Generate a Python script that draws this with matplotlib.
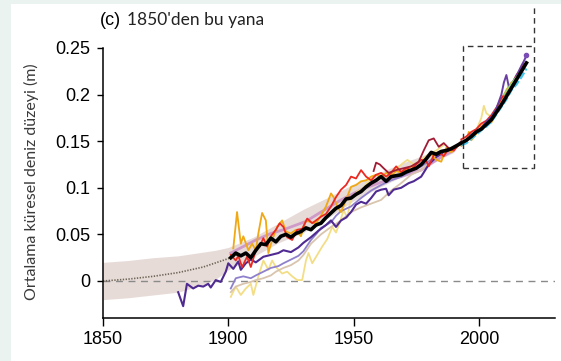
import numpy as np
import matplotlib
matplotlib.use("Agg")
import matplotlib.pyplot as plt
from matplotlib.patches import Rectangle

# --- veriler -------------------------------------------------------------
# ana tahmin (siyah)
yil_siyah = [1901, 1903, 1905, 1907, 1909, 1911, 1913, 1915, 1917, 1919,
             1921, 1923, 1925, 1927, 1929, 1931, 1933, 1935, 1937, 1939,
             1941, 1943, 1945, 1947, 1949, 1951, 1953, 1955, 1957, 1959,
             1961, 1963, 1965, 1967, 1969, 1971, 1973, 1975, 1977, 1979,
             1981, 1983, 1985, 1987, 1989, 1991, 1993, 1995, 1997, 1999,
             2001, 2003, 2005, 2007, 2009, 2011, 2013, 2015, 2017, 2019]
siyah = [0.025, 0.030, 0.027, 0.030, 0.025, 0.033, 0.040, 0.039, 0.046, 0.042,
         0.048, 0.050, 0.047, 0.051, 0.053, 0.057, 0.055, 0.060, 0.062, 0.068,
         0.073, 0.078, 0.081, 0.088, 0.089, 0.093, 0.096, 0.101, 0.105, 0.108,
         0.112, 0.107, 0.112, 0.113, 0.114, 0.117, 0.119, 0.121, 0.125, 0.131,
         0.138, 0.136, 0.139, 0.140, 0.142, 0.145, 0.148, 0.151, 0.155, 0.160,
         0.163, 0.168, 0.173, 0.181, 0.189, 0.198, 0.207, 0.216, 0.225, 0.234]

# 1850 sonrasi tahmin ve belirsizlik bandi
yil_bant = [1850, 1860, 1870, 1880, 1890, 1895, 1900, 1910, 1920, 1930,
            1940, 1950, 1960, 1970, 1980, 1990]
bant_ust = [0.020, 0.022, 0.025, 0.027, 0.031, 0.033, 0.036, 0.047, 0.062, 0.077,
            0.090, 0.104, 0.116, 0.127, 0.137, 0.146]
bant_alt = [-0.020, -0.018, -0.015, -0.012, -0.004, 0.002, 0.012, 0.026, 0.041, 0.052,
            0.068, 0.086, 0.100, 0.113, 0.125, 0.138]
yil_nokta = [1850, 1860, 1870, 1880, 1890, 1900, 1905]
nokta = [0.0, 0.002, 0.005, 0.009, 0.015, 0.024, 0.030]

# diger yeniden yapilandirmalar
yil_mor = [1880, 1882, 1883.5, 1886, 1888, 1890, 1892, 1893, 1895, 1897,
           1899, 1900, 1902, 1904, 1905, 1907, 1909, 1911, 1914, 1917,
           1920, 1922, 1925, 1928, 1930, 1933, 1936, 1939, 1941, 1943,
           1945, 1947, 1949, 1951, 1953, 1955, 1957, 1959, 1961, 1963,
           1964, 1966, 1969, 1972, 1974, 1977, 1980, 1983, 1986, 1990]
mor = [-0.012, -0.027, -0.003, -0.008, -0.005, -0.006, -0.003, -0.007, 0.001, -0.001,
       0.010, 0.019, 0.013, 0.021, 0.012, 0.019, 0.023, 0.020, 0.026, 0.028,
       0.030, 0.033, 0.031, 0.036, 0.041, 0.047, 0.054, 0.060, 0.065, 0.058,
       0.065, 0.068, 0.074, 0.082, 0.085, 0.083, 0.089, 0.096, 0.098, 0.099,
       0.092, 0.098, 0.100, 0.105, 0.107, 0.112, 0.125, 0.133, 0.138, 0.142]

yil_lila = [1901, 1903, 1906, 1909, 1911, 1914, 1917, 1920, 1922, 1925,
            1928, 1930, 1933, 1935, 1937, 1941, 1943, 1945, 1949, 1953,
            1957, 1961, 1965, 1969, 1973, 1977, 1981]
lila = [-0.008, 0.003, 0.005, 0.003, 0.006, 0.010, 0.014, 0.016, 0.019, 0.023,
        0.027, 0.032, 0.044, 0.050, 0.057, 0.063, 0.070, 0.075, 0.080, 0.089,
        0.097, 0.103, 0.108, 0.112, 0.118, 0.123, 0.130]

yil_bej = [1901, 1903, 1906, 1909, 1911, 1914, 1917, 1919, 1922, 1925,
           1928, 1930, 1933, 1937, 1941, 1945, 1949, 1953, 1957, 1961,
           1965, 1969, 1973, 1977, 1980]
bej = [-0.012, -0.006, -0.003, -0.001, 0.001, 0.003, 0.006, 0.010, 0.014, 0.017,
       0.022, 0.028, 0.040, 0.050, 0.058, 0.065, 0.074, 0.079, 0.083, 0.087,
       0.097, 0.105, 0.114, 0.119, 0.126]

yil_sari = [1901, 1903, 1905, 1907, 1909, 1910, 1912, 1914, 1916, 1917.5,
            1919, 1921.5, 1923.5, 1925.5, 1927.5, 1929.5, 1931, 1932, 1933.5, 1935.5,
            1937.5, 1939.5, 1941.5, 1943, 1944.8, 1946, 1947.5, 1948.8, 1951.5, 1954,
            1956.8, 1959, 1961, 1963, 1965, 1967, 1969.5, 1971.5, 1974, 1977,
            1980, 1983, 1986]
sari = [-0.017, -0.006, -0.015, -0.008, -0.003, -0.015, 0.005, 0.022, 0.012, 0.022,
        0.015, 0.008, 0.010, 0.005, 0.001, 0.001, 0.022, 0.030, 0.019, 0.028,
        0.037, 0.045, 0.058, 0.052, 0.065, 0.076, 0.068, 0.087, 0.096, 0.100,
        0.110, 0.108, 0.114, 0.112, 0.116, 0.120, 0.126, 0.130, 0.125, 0.130,
        0.136, 0.140, 0.146]

yil_turuncu = [1902, 1903.5, 1905, 1906, 1908, 1909.5, 1911, 1912, 1913.5, 1915,
               1916, 1917.5, 1919.5, 1921.5, 1923, 1925, 1927, 1929, 1931, 1933,
               1935, 1937, 1939, 1941, 1942, 1943.5, 1945, 1947, 1949, 1951,
               1953, 1955, 1957, 1959, 1961, 1963, 1965, 1967, 1969, 1971,
               1973, 1975, 1977, 1979, 1981, 1983, 1985, 1987, 1989, 1991]
turuncu = [0.035, 0.074, 0.040, 0.048, 0.033, 0.040, 0.033, 0.051, 0.073, 0.065,
           0.030, 0.044, 0.058, 0.065, 0.053, 0.051, 0.055, 0.048, 0.065, 0.063,
           0.062, 0.070, 0.080, 0.094, 0.090, 0.080, 0.074, 0.087, 0.101, 0.103,
           0.107, 0.108, 0.112, 0.114, 0.111, 0.116, 0.113, 0.118, 0.116, 0.120,
           0.123, 0.121, 0.126, 0.132, 0.136, 0.130, 0.128, 0.143, 0.138, 0.144]

yil_kirmizi = [1901, 1903, 1904, 1905.5, 1907.5, 1909, 1911, 1912.5, 1914, 1915.5,
               1917, 1919, 1920.5, 1922, 1923.5, 1925.5, 1927.5, 1929.5, 1931.5, 1933.5,
               1937, 1939, 1941, 1943, 1945, 1947, 1949, 1951, 1953, 1955,
               1957, 1959, 1961, 1963, 1965, 1967, 1969, 1971, 1973, 1975,
               1977, 1979, 1980, 1982, 1984, 1986, 1988, 1990, 1992]
kirmizi = [0.028, 0.022, 0.027, 0.015, 0.026, 0.015, 0.033, 0.037, 0.046, 0.037,
           0.048, 0.055, 0.062, 0.058, 0.047, 0.044, 0.055, 0.056, 0.067, 0.062,
           0.069, 0.072, 0.080, 0.090, 0.098, 0.103, 0.112, 0.110, 0.119, 0.112,
           0.108, 0.114, 0.116, 0.112, 0.116, 0.123, 0.117, 0.121, 0.119, 0.125,
           0.130, 0.129, 0.123, 0.135, 0.138, 0.134, 0.142, 0.140, 0.146]

yil_bordo = [1958, 1959, 1960.5, 1962, 1964, 1967, 1970, 1973, 1976, 1978,
             1980, 1982, 1984, 1986, 1988.5, 1990.5, 1993]
bordo = [0.118, 0.127, 0.125, 0.121, 0.116, 0.119, 0.121, 0.123, 0.128, 0.140,
         0.151, 0.153, 0.144, 0.148, 0.141, 0.143, 0.150]

yil_pembe = [1901, 1906, 1911, 1917, 1922, 1927, 1931, 1937, 1945, 1953,
             1961, 1969, 1977, 1985, 1990]
pembe = [0.030, 0.037, 0.044, 0.051, 0.055, 0.060, 0.064, 0.074, 0.087, 0.098,
         0.106, 0.112, 0.119, 0.133, 0.140]

# uydu donemi (1993 sonrasi)
yil_uydu_mor = [1993, 1995, 1997, 1999, 2001, 2003, 2005, 2007, 2009, 2010,
                2011, 2012, 2013, 2015, 2017, 2018, 2019]
uydu_mor = [0.147, 0.150, 0.157, 0.161, 0.164, 0.171, 0.176, 0.185, 0.200, 0.213,
            0.221, 0.208, 0.211, 0.220, 0.231, 0.236, 0.242]
yil_camgobegi = [1993, 1995, 1997, 1999, 2001, 2003, 2005, 2007, 2009, 2011,
                 2013, 2015, 2017, 2019]
camgobegi = [0.146, 0.148, 0.153, 0.157, 0.162, 0.166, 0.171, 0.179, 0.187, 0.195,
             0.205, 0.211, 0.219, 0.228]
yil_uydu_kirmizi = [1993, 1995, 1997, 1999, 2001, 2003, 2005, 2007, 2009, 2011,
                    2013, 2015, 2017, 2018]
uydu_kirmizi = [0.152, 0.155, 0.160, 0.163, 0.169, 0.172, 0.178, 0.186, 0.196, 0.203,
                0.210, 0.221, 0.228, 0.233]
yil_uydu_turuncu = [1993, 1995, 1996, 1997, 1999, 2001, 2003, 2005, 2007, 2009,
                    2011, 2013]
uydu_turuncu = [0.145, 0.150, 0.160, 0.151, 0.158, 0.166, 0.171, 0.170, 0.183, 0.193,
                0.205, 0.213]
yil_uydu_sari = [1997, 1999, 2001, 2002, 2003, 2005, 2007]
uydu_sari = [0.158, 0.162, 0.175, 0.188, 0.180, 0.176, 0.184]
yil_yesil = [2010, 2013, 2016, 2018]
yesil = [0.200, 0.212, 0.222, 0.228]

x_ticks = [1850, 1900, 1950, 2000]
y_ticks = [0, 0.05, 0.1, 0.15, 0.2, 0.25]
y_tick_labels = ['0', '0.05', '0.1', '0.15', '0.2', '0.25']

# --- cizim ---------------------------------------------------------------
plt.rcParams['font.family'] = ['Liberation Sans', 'DejaVu Sans']

fig = plt.figure(figsize=(5.61, 3.61), dpi=100)
fig.patch.set_facecolor('white')
# sol ve ust kenardaki acik yesil serit
fig.patches.append(Rectangle((0, 0), 11 / 561, 1, transform=fig.transFigure,
                             facecolor='#eaf3f0', edgecolor='none', zorder=0))
fig.patches.append(Rectangle((0, 1 - 4 / 361), 1, 4 / 361, transform=fig.transFigure,
                             facecolor='#eaf3f0', edgecolor='none', zorder=0))

ax = fig.add_axes([103 / 561, 1 - 318 / 361, (555 - 103) / 561, (318 - 48) / 361])
ax.set_xlim(1850, 2030.4)
ax.set_ylim(-0.0397, 0.25)

ax.fill_between(yil_bant, bant_alt, bant_ust, color='#e7dbd8', lw=0, zorder=1)
ax.plot(yil_nokta, nokta, color='#6e6455', lw=1.2, ls=(0, (0.8, 0.9)), zorder=2)
ax.axhline(0, color='#8a8a8a', lw=1.0, ls=(0, (5, 4)), zorder=1)

ince = 1.3
ax.plot(yil_pembe, pembe, color='#c98ac4', lw=2.0, alpha=0.8, zorder=3)
ax.plot(yil_sari, sari, color='#f3de86', lw=ince, zorder=3)
ax.plot(yil_bej, bej, color='#d9c4ae', lw=ince, zorder=3)
ax.plot(yil_lila, lila, color='#8f80cc', lw=ince, zorder=3)
ax.plot(yil_mor, mor, color='#4f2a91', lw=1.5, zorder=4)
ax.plot(yil_turuncu, turuncu, color='#f0a814', lw=ince, zorder=4)
ax.plot(yil_kirmizi, kirmizi, color='#ea2a22', lw=ince, zorder=4)
ax.plot(yil_bordo, bordo, color='#a01c34', lw=ince, zorder=4)

ax.plot(yil_uydu_sari, uydu_sari, color='#f3de86', lw=ince, zorder=4)
ax.plot(yil_uydu_turuncu, uydu_turuncu, color='#f0a814', lw=ince, zorder=4)
ax.plot(yil_uydu_kirmizi, uydu_kirmizi, color='#ea2a22', lw=ince, zorder=4)
ax.plot(yil_uydu_mor, uydu_mor, color='#6a3ea3', lw=1.4, zorder=4)
ax.plot(yil_uydu_mor[-1:], uydu_mor[-1:], 'o', color='#7a4cb5', ms=3, zorder=4)
ax.plot(yil_yesil, yesil, color='#9fd36b', lw=ince, zorder=4)
ax.plot(yil_camgobegi, camgobegi, color='#45c6ec', lw=1.8, ls=(0, (3, 1)), zorder=5)

ax.plot(yil_siyah, siyah, color='black', lw=2.6, zorder=6)

# kesikli kutu, sag kenari ust kenara kadar uzaniyor
kutu = dict(color='#333333', lw=1.0, ls=(0, (4, 3)), clip_on=False, zorder=7)
ax.plot([1993.6, 1993.6, 2022.0], [0.121, 0.252, 0.252], **kutu)
ax.plot([1993.6, 2021.6], [0.121, 0.121], **kutu)
ax.plot([2021.6, 2022.0, 2022.0], [0.121, 0.121, 0.297], **kutu)

for s in ['top', 'right']:
    ax.spines[s].set_visible(False)
for s in ['left', 'bottom']:
    ax.spines[s].set_linewidth(1.1)

ax.set_xticks(x_ticks)
ax.set_yticks(y_ticks)
ax.set_yticklabels(y_tick_labels)
ax.tick_params(axis='y', length=4, width=1.0, pad=5, labelsize=13)
ax.tick_params(axis='x', length=6, width=1.0, pad=3, labelsize=13)

fig.text(100 / 561, 1 - 25 / 361, '(c)', fontsize=13, va='baseline', ha='left')
fig.text(127 / 561, 1 - 25 / 361, "1850'den bu yana", fontsize=12.5,
         family=['Lato', 'DejaVu Sans'], va='baseline', ha='left', color='#222222')
fig.text(31 / 561, 1 - 182 / 361, 'Ortalama küresel deniz düzeyi (m)', fontsize=11.5,
         family=['Lato', 'DejaVu Sans'], rotation=90,
         ha='center', va='center', color='#3a3a3a')

fig.savefig('out.png', dpi=100)
